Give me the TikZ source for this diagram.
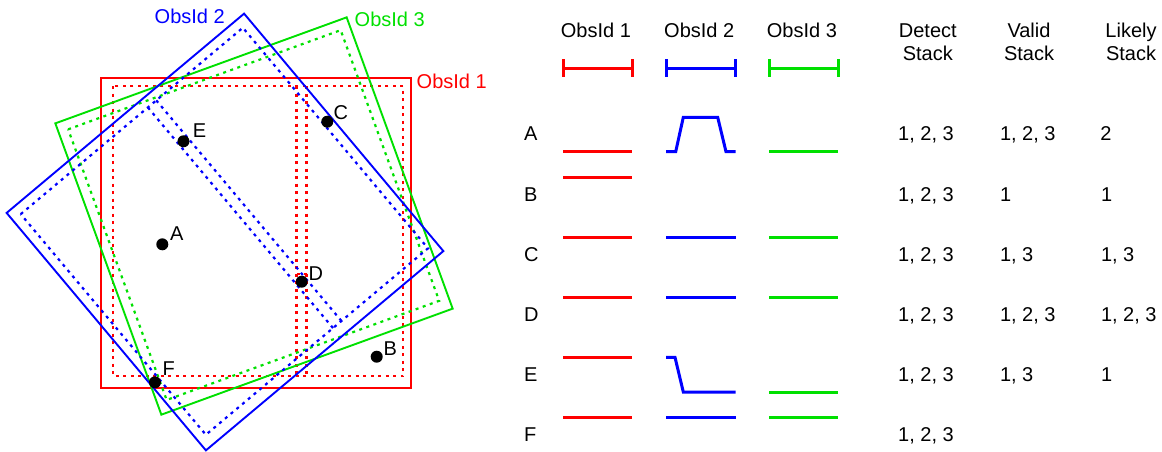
\documentclass[tikz,border=0pt]{standalone}
\usepackage{fontspec}
\setmainfont{Liberation Sans}
\definecolor{myred}{RGB}{255,0,0}
\definecolor{myblue}{RGB}{0,0,255}
\definecolor{mygreen}{RGB}{0,224,0}
\tikzset{
  lbl/.style={font=\fontsize{20}{22}\selectfont, inner sep=0pt, anchor=base west},
  hdr/.style={font=\fontsize{20}{22}\selectfont, inner sep=0pt, anchor=base},
  sqline/.style={line width=1.9pt},
  dotline/.style={line width=2.2pt, dash pattern=on 3pt off 4.5pt},
  tline/.style={line width=3pt},
  spot/.style={circle, fill=black, minimum size=12pt, inner sep=0pt},
}
\begin{document}
\begin{tikzpicture}[x=1pt,y=-1pt]
\useasboundingbox (0,0) rectangle (1162,451);

% ---------- ObsId 1 (red) ----------
\draw[sqline, myred] (101,78) rectangle (411,388);
\draw[dotline, myred] (113.3,86) rectangle (403.3,376);
\draw[dotline, myred] (296.5,86) -- (296.5,376);
\draw[dotline, myred] (306.5,86) -- (306.5,376);
\draw[dotline, myred] (296.5,274) -- (306.5,274);

% ---------- ObsId 3 (green) ----------
\begin{scope}[shift={(254,216)}, x={(0.9397pt,0.3420pt)}, y={(0.3420pt,-0.9397pt)}]
  \draw[sqline, mygreen] (-155,-155) -- (155,-155) -- (155,155) -- (-155,155) -- cycle;
  \draw[dotline, mygreen] (-145,-145) -- (145,-145) -- (145,143) -- (-145,143) -- cycle;
\end{scope}

% ---------- ObsId 2 (blue) ----------
\begin{scope}[shift={(225,232)}, x={(0.7660pt,0.6428pt)}, y={(0.6428pt,-0.7660pt)}]
  \draw[sqline, myblue] (-155,-155) -- (155,-155) -- (155,155) -- (-155,155) -- cycle;
  \draw[dotline, myblue] (-145,-145) -- (145,-145) -- (145,143) -- (-145,143) -- cycle;
  \draw[dotline, myblue] (21,-145) -- (21,143);
  \draw[dotline, myblue] (32,-145) -- (32,143);
\end{scope}

% labels of the fields
\node[lbl, text=myblue] (l2) at (154.5,23) {ObsId 2};
\node[lbl, text=mygreen] (l3) at (354.5,26) {ObsId 3};
\node[lbl, text=myred] (l1) at (416.5,88) {ObsId 1};

% points
\node[spot] (pA) at (162.3,244.3) {};
\node[lbl] (tA) at (170,240.7) {A};
\node[spot] (pB) at (376.7,356.7) {};
\node[lbl] (tB) at (383.3,355) {B};
\node[spot] (pC) at (327.3,121.7) {};
\node[lbl] (tC) at (333.3,119.3) {C};
\node[spot] (pD) at (301.7,281.7) {};
\node[lbl] (tD) at (308.3,280) {D};
\node[spot] (pE) at (183.5,141.3) {};
\node[lbl] (tE) at (192.7,137.7) {E};
\node[spot] (pF) at (155,382.3) {};
\node[lbl] (tF) at (162.3,375) {F};

% ---------- table headers ----------
\node[lbl] (h1) at (560.7,37.3) {ObsId 1};
\node[lbl] (h2) at (664,37.3) {ObsId 2};
\node[lbl] (h3) at (766.7,37.3) {ObsId 3};
\node[hdr] (hd1) at (927.8,37.3) {Detect};
\node[hdr] (hd2) at (927.8,60) {Stack};
\node[hdr] (hv1) at (1029,37.3) {Valid};
\node[hdr] (hv2) at (1029,60) {Stack};
\node[hdr] (hl1) at (1131,37.3) {Likely};
\node[hdr] (hl2) at (1131,60) {Stack};

% header bars
\draw[tline, myred] (563.3,68.3) -- (632.3,68.3);
\draw[tline, myred] (563.3,59.3) -- (563.3,77.3);
\draw[tline, myred] (632.3,59.3) -- (632.3,77.3);
\draw[tline, myblue] (666,68.3) -- (735.7,68.3);
\draw[tline, myblue] (666,59.3) -- (666,77.3);
\draw[tline, myblue] (735.7,59.3) -- (735.7,77.3);
\draw[tline, mygreen] (769,68.3) -- (838.3,68.3);
\draw[tline, mygreen] (769,59.3) -- (769,77.3);
\draw[tline, mygreen] (838.3,59.3) -- (838.3,77.3);

% row letters
\node[lbl] (rA) at (524,140.7) {A};
\node[lbl] (rB) at (524,201) {B};
\node[lbl] (rC) at (524,261.5) {C};
\node[lbl] (rD) at (524,321) {D};
\node[lbl] (rE) at (524,381) {E};
\node[lbl] (rF) at (524,441) {F};

% row A
\draw[tline, myred] (563.3,151.7) -- (632.3,151.7);
\draw[tline, myblue] (666,151.7) -- (675.7,151.7) -- (683.3,117.3) -- (717.7,117.3) -- (726,151.7) -- (735.7,151.7);
\draw[tline, mygreen] (769,151.7) -- (838.3,151.7);
% row B
\draw[tline, myred] (563.3,177.3) -- (632.3,177.3);
% row C
\draw[tline, myred] (563.3,237.3) -- (632.3,237.3);
\draw[tline, myblue] (666,237.3) -- (735.7,237.3);
\draw[tline, mygreen] (769,237.3) -- (838.3,237.3);
% row D
\draw[tline, myred] (563.3,297.7) -- (632.3,297.7);
\draw[tline, myblue] (666,297.7) -- (735.7,297.7);
\draw[tline, mygreen] (769,297.7) -- (838.3,297.7);
% row E
\draw[tline, myred] (563.3,357.3) -- (632.3,357.3);
\draw[tline, myblue] (666,357.3) -- (675,357.3) -- (683.3,392) -- (735.7,392);
\draw[tline, mygreen] (769,392) -- (838.3,392);
% row F
\draw[tline, myred] (563.3,417.7) -- (632.3,417.7);
\draw[tline, myblue] (666,417.7) -- (735.7,417.7);
\draw[tline, mygreen] (769,417.7) -- (838.3,417.7);

% stack values
\node[lbl] (dA) at (898,140.7) {1, 2, 3};
\node[lbl] (vA) at (999.8,140.7) {1, 2, 3};
\node[lbl] (kA) at (1100.2,140.7) {2};
\node[lbl] (dB) at (898,201) {1, 2, 3};
\node[lbl] (vB) at (999.8,201) {1};
\node[lbl] (kB) at (1100.8,201) {1};
\node[lbl] (dC) at (898,261.5) {1, 2, 3};
\node[lbl] (vC) at (999.8,261.5) {1, 3};
\node[lbl] (kC) at (1100.8,261.5) {1, 3};
\node[lbl] (dD) at (898,321) {1, 2, 3};
\node[lbl] (vD) at (999.8,321) {1, 2, 3};
\node[lbl] (kD) at (1100.8,321) {1, 2, 3};
\node[lbl] (dE) at (898,381) {1, 2, 3};
\node[lbl] (vE) at (999.8,381) {1, 3};
\node[lbl] (kE) at (1100.8,381) {1};
\node[lbl] (dF) at (898,441) {1, 2, 3};
\end{tikzpicture}
\end{document}
